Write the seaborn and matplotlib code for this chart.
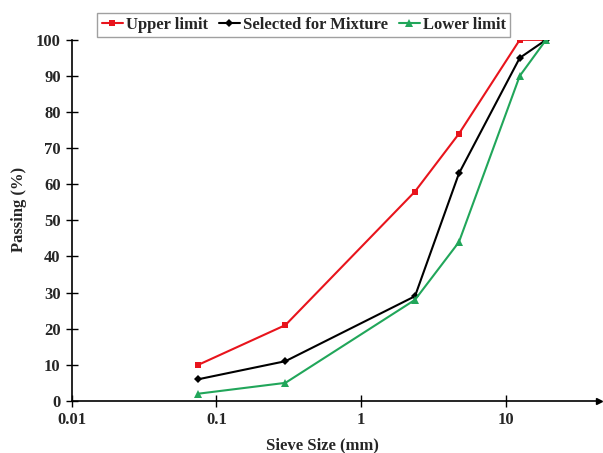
import matplotlib.pyplot as plt
import seaborn as sns
import pandas as pd

# Sieve analysis data
sieve_size = [0.075, 0.3, 2.36, 4.75, 12.5, 19]
upper_limit = [10, 21, 58, 74, 100, 100]
selected_mix = [6, 11, 29, 63, 95, 100]
lower_limit = [2, 5, 28, 44, 90, 100]
series_names = ['Upper limit', 'Selected for Mixture', 'Lower limit']

df = pd.DataFrame({
    'Sieve': sieve_size * 3,
    'Passing': upper_limit + selected_mix + lower_limit,
    'Series': [s for s in series_names for _ in sieve_size],
})

sns.set_style('white')
plt.rcParams['font.family'] = ['Liberation Serif', 'DejaVu Serif']
plt.rcParams['font.weight'] = 'bold'

fig = plt.figure(figsize=(6.03, 4.53), dpi=100)
ax = fig.add_axes([0.119, 0.115, 0.874, 0.797])

palette = {'Upper limit': '#e8141c', 'Selected for Mixture': '#000000',
           'Lower limit': '#21a65a'}
markers = {'Upper limit': 's', 'Selected for Mixture': 'D',
           'Lower limit': '^'}
sns.lineplot(data=df, x='Sieve', y='Passing', hue='Series', style='Series',
             palette=palette, markers=markers, dashes=False, linewidth=1.5,
             markersize=5, markeredgewidth=0, ax=ax)

# marker sizes per curve, as in the original
msize = {'s': 4.8, 'D': 3.6, '^': 5.2}
for ln in ax.get_lines():
    m = ln.get_marker()
    if m in msize:
        ln.set_markersize(msize[m])

ax.set_xscale('log')
ax.set_xlim(0.01, 44)
ax.set_ylim(0, 100)
ax.set_xticks([0.01, 0.1, 1, 10])
ax.set_xticklabels(['0.01', '0.1', '1', '10'])
ax.set_yticks(range(0, 101, 10))
ax.minorticks_off()
ax.tick_params(axis='both', direction='inout', length=8, width=1,
               labelsize=12, color='black', pad=4, bottom=True, left=True)
for lab in ax.get_xticklabels() + ax.get_yticklabels():
    lab.set_fontweight('bold')

for side in ['top', 'right']:
    ax.spines[side].set_visible(False)
for side in ['left', 'bottom']:
    ax.spines[side].set_color('black')
    ax.spines[side].set_linewidth(1.2)
ax.plot([1], [0], marker='>', color='black', markersize=5,
        transform=ax.transAxes, clip_on=False)

ax.set_xlabel('Sieve Size (mm)', fontsize=12, fontweight='bold')
ax.set_ylabel('Passing (%)', fontsize=12, fontweight='bold')
ax.xaxis.set_label_coords(0.476, -0.1)
ax.yaxis.set_label_coords(-0.085, 0.53)

handles, labels = ax.get_legend_handles_labels()
for h in handles:
    m = h.get_marker()
    if m in msize:
        h.set_markersize(msize[m])
leg = ax.legend(handles, labels, ncol=3, loc='lower center',
                bbox_to_anchor=(0.44, 1.003), frameon=True, fancybox=False,
                prop={'size': 12, 'weight': 'bold'}, handlelength=1.3,
                handletextpad=0.15, columnspacing=0.65, borderpad=0.25,
                borderaxespad=0.1)
leg.get_frame().set_edgecolor('#888888')
leg.get_frame().set_linewidth(1)

plt.savefig('out.png', dpi=100)
